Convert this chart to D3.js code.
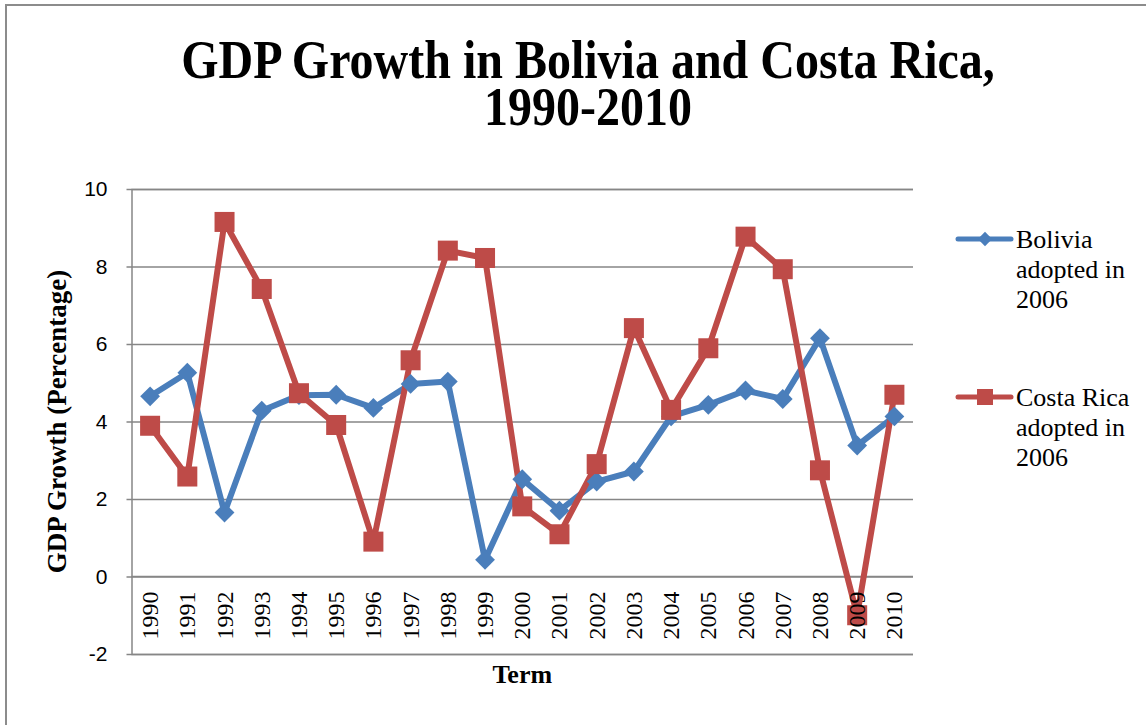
<!DOCTYPE html>
<html>
<head>
<meta charset="utf-8">
<script src="https://cdn.jsdelivr.net/npm/d3@7/dist/d3.min.js"></script>
<style>
  html, body { margin: 0; padding: 0; background: #fff; }
  svg { display: block; }
</style>
</head>
<body>
<svg id="chart" width="1146" height="725"></svg>
<script>
// Annual GDP growth (%) by year
const years = ["1990","1991","1992","1993","1994","1995","1996","1997","1998","1999",
               "2000","2001","2002","2003","2004","2005","2006","2007","2008","2009","2010"];
const bolivia = [4.65, 5.26, 1.65, 4.28, 4.68, 4.69, 4.35, 4.97, 5.03, 0.43,
                 2.51, 1.70, 2.45, 2.71, 4.13, 4.43, 4.80, 4.58, 6.15, 3.38, 4.13];
const costaRica = [3.89, 2.58, 9.15, 7.42, 4.73, 3.91, 0.90, 5.58, 8.41, 8.22,
                   1.81, 1.09, 2.90, 6.41, 4.30, 5.89, 8.77, 7.93, 2.74, -1.00, 4.69];
const yTicks = [-2, 0, 2, 4, 6, 8, 10];
const seriesNames = [["Bolivia", "adopted in", "2006"], ["Costa Rica", "adopted in", "2006"]];

const BLUE = "#4a7ebb", RED = "#be4b48", GRID = "#868686";
const serif = "'Liberation Serif', 'Times New Roman', serif";
const sans = "'Liberation Sans', Arial, sans-serif";

const svg = d3.select("#chart");

// outer chart frame
svg.append("rect")
  .attr("x", 6).attr("y", 5).attr("width", 1160).attr("height", 740)
  .attr("fill", "none").attr("stroke", "#8c8c8c").attr("stroke-width", 2);

// title (two lines, slightly tall letterforms)
const titleG = svg.append("g").attr("transform", "translate(588,0) scale(1,1.14)");
const title = titleG.append("text")
  .attr("text-anchor", "middle")
  .attr("font-family", serif).attr("font-weight", "bold").attr("font-size", 48)
  .attr("fill", "#000");
title.append("tspan").attr("x", 0).attr("y", 78 / 1.14).text("GDP Growth in Bolivia and Costa Rica,");
title.append("tspan").attr("x", 0).attr("y", 125 / 1.14).text("1990-2010");

const plot = { left: 131.5, right: 913, top: 189, bottom: 654 };

const x = d3.scaleBand().domain(years).range([plot.left, plot.right]);
const y = d3.scaleLinear().domain([-2, 10]).range([plot.bottom, plot.top]);

// horizontal gridlines + value axis
const yAxis = d3.axisLeft(y).tickValues(yTicks).tickSize(-(plot.right - plot.left)).tickPadding(24)
  .tickFormat(d => String(d));
const yg = svg.append("g").attr("transform", `translate(${plot.left},0)`).call(yAxis);
yg.select(".domain").attr("stroke", GRID).attr("stroke-width", 1.5);
yg.selectAll(".tick line").attr("stroke", GRID).attr("stroke-width", 1.5).attr("x1", -5);
yg.selectAll(".tick text")
  .attr("font-family", sans).attr("font-size", 21).attr("fill", "#000")
  .attr("x", -24);

// category axis at zero
svg.append("line")
  .attr("x1", plot.left).attr("x2", plot.right)
  .attr("y1", y(0)).attr("y2", y(0))
  .attr("stroke", GRID).attr("stroke-width", 1.5);

const cx = d => x(d) + x.bandwidth() / 2;

// series lines and markers
const line = d3.line().x((d, i) => cx(years[i])).y(d => y(d));

svg.append("path").datum(bolivia)
  .attr("d", line).attr("fill", "none").attr("stroke", BLUE)
  .attr("stroke-width", 6).attr("stroke-linejoin", "round").attr("stroke-linecap", "round");
svg.append("path").datum(costaRica)
  .attr("d", line).attr("fill", "none").attr("stroke", RED)
  .attr("stroke-width", 6).attr("stroke-linejoin", "round").attr("stroke-linecap", "round");

const diamond = d3.symbol().type(d3.symbolDiamond2).size(250);
svg.append("g").selectAll("path").data(bolivia).join("path")
  .attr("d", diamond)
  .attr("transform", (d, i) => `translate(${cx(years[i])},${y(d)})`)
  .attr("fill", BLUE);

svg.append("g").selectAll("rect").data(costaRica).join("rect")
  .attr("x", (d, i) => cx(years[i]) - 10).attr("y", d => y(d) - 10)
  .attr("width", 20).attr("height", 20)
  .attr("fill", RED);

// rotated year labels below the zero line
svg.append("g").selectAll("text").data(years).join("text")
  .attr("transform", d => `translate(${cx(d) + 8},${y(0) + 15}) rotate(-90)`)
  .attr("text-anchor", "end")
  .attr("font-family", serif).attr("font-size", 24).attr("fill", "#000")
  .text(d => d);

// axis titles
svg.append("text")
  .attr("transform", `translate(66,${(plot.top + plot.bottom) / 2}) rotate(-90)`)
  .attr("text-anchor", "middle")
  .attr("font-family", serif).attr("font-weight", "bold").attr("font-size", 27)
  .text("GDP Growth (Percentage)");
svg.append("text")
  .attr("x", (plot.left + plot.right) / 2).attr("y", 683)
  .attr("text-anchor", "middle")
  .attr("font-family", serif).attr("font-weight", "bold").attr("font-size", 26)
  .text("Term");

// legend
const legendY = [239, 397];
const colors = [BLUE, RED];
seriesNames.forEach((lines, k) => {
  const g = svg.append("g");
  g.append("line")
    .attr("x1", 958).attr("x2", 1011).attr("y1", legendY[k]).attr("y2", legendY[k])
    .attr("stroke", colors[k]).attr("stroke-width", 5).attr("stroke-linecap", "round");
  if (k === 0) {
    g.append("path").attr("d", d3.symbol().type(d3.symbolDiamond2).size(130))
      .attr("transform", `translate(985,${legendY[k]})`).attr("fill", colors[k]);
  } else {
    g.append("rect").attr("x", 977).attr("y", legendY[k] - 8).attr("width", 16).attr("height", 16)
      .attr("fill", colors[k]);
  }
  const t = g.append("text").attr("font-family", serif).attr("font-size", 26).attr("fill", "#000");
  lines.forEach((s, j) => {
    t.append("tspan").attr("x", 1016).attr("y", legendY[k] + 9 + j * 30).text(s);
  });
});
</script>
</body>
</html>
